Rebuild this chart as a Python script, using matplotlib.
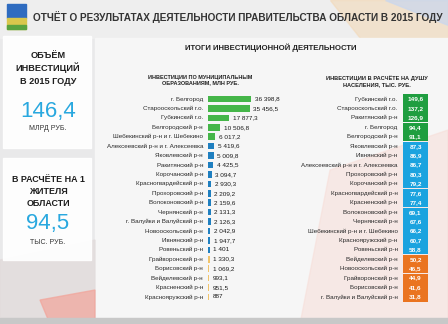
import matplotlib
matplotlib.use("Agg")
import matplotlib.pyplot as plt
from matplotlib.patches import Rectangle, Polygon

# Данные: инвестиции по муниципальным образованиям, млн руб.
mun_names = ["г. Белгород", "Старооскольский г.о.", "Губкинский г.о.", "Белгородский р-н",
             "Шебекинский р-н и г. Шебекино", "Алексеевский р-н и г. Алексеевка",
             "Яковлевский р-н", "Ракитянский р-н", "Корочанский р-н", "Красногвардейский р-н",
             "Прохоровский р-н", "Волоконовский р-н", "Чернянский р-н",
             "г. Валуйки и Валуйский р-н", "Новооскольский р-н", "Ивнянский р-н",
             "Ровеньский р-н", "Грайворонский р-н", "Борисовский р-н", "Вейделевский р-н",
             "Красненский р-н", "Краснояружский р-н"]
mun_values = [36398.8, 35456.5, 17877.3, 10506.8, 6017.2, 5419.6, 5009.8, 4425.5, 3094.7,
              2930.3, 2209.2, 2159.6, 2131.3, 2126.3, 2042.9, 1947.7, 1401, 1330.3,
              1069.2, 993.1, 951.5, 887]
mun_groups = [0] * 5 + [1] * 12 + [2] * 5

# Данные: инвестиции в расчёте на душу населения, тыс. руб.
cap_names = ["Губкинский г.о.", "Старооскольский г.о.", "Ракитянский р-н", "г. Белгород",
             "Белгородский р-н", "Яковлевский р-н", "Ивнянский р-н",
             "Алексеевский р-н и г. Алексеевка", "Прохоровский р-н", "Корочанский р-н",
             "Красногвардейский р-н", "Красненский р-н", "Волоконовский р-н",
             "Чернянский р-н", "Шебекинский р-н и г. Шебекино", "Краснояружский р-н",
             "Ровеньский р-н", "Вейделевский р-н", "Новооскольский р-н",
             "Грайворонский р-н", "Борисовский р-н", "г. Валуйки и Валуйский р-н"]
cap_values = [149.6, 137.2, 126.9, 94.4, 91.1, 87.3, 86.9, 86.7, 80.3, 79.2, 77.6, 77.4,
              69.1, 67.6, 66.2, 60.7, 58.8, 50.2, 46.5, 44.9, 41.6, 31.8]
cap_groups = [0] * 5 + [1] * 12 + [2] * 5

FONT = ["Liberation Sans", "DejaVu Sans"]

def fmt(v):
    s = f"{v:,.1f}".replace(",", " ").replace(".", ",")
    if s.endswith(",0"):
        s = s[:-2]
    return s

W, H = 448, 324
fig = plt.figure(figsize=(W / 100, H / 100), dpi=100, facecolor="#e9e9ea")

# фон и декор в пиксельных координатах
bg = fig.add_axes([0, 0, 1, 1])
bg.set_xlim(0, W)
bg.set_ylim(H, 0)
bg.axis("off")
bg.add_patch(Rectangle((0, 0), W, 38, color="#eeeeee"))
bg.add_patch(Polygon([(330, 0), (448, 0), (448, 38), (360, 38)], color="#f3d9b8", alpha=0.6))
bg.add_patch(Polygon([(385, 0), (448, 0), (448, 25)], color="#c9d7ef", alpha=0.7))
bg.add_patch(Rectangle((95, 38), W - 95, H - 38, color="#f6f6f6"))
bg.add_patch(Polygon([(330, 170), (448, 130), (448, 324), (300, 324)], color="#f6dcd6", alpha=0.5))
bg.add_patch(Polygon([(0, 260), (95, 240), (95, 324), (0, 324)], color="#e2dcdc", alpha=0.8))
bg.add_patch(Polygon([(40, 300), (95, 290), (95, 324), (50, 324)], color="#f2a49a", alpha=0.7))
bg.add_patch(Rectangle((0, 318), W, 6, color="#c8c8c8"))

# герб
bg.add_patch(Rectangle((7, 4), 19, 14, color="#2f6cc0"))
bg.add_patch(Rectangle((7, 18), 19, 11, color="#d9c74c"))
bg.add_patch(Rectangle((7, 25), 19, 4, color="#5aa33f"))

bg.text(33, 17, "ОТЧЁТ О РЕЗУЛЬТАТАХ ДЕЯТЕЛЬНОСТИ ПРАВИТЕЛЬСТВА ОБЛАСТИ В 2015 ГОДУ",
        family=FONT, fontsize=7.2, fontweight="bold", color="#333333", va="center")

# левые белые блоки
bg.add_patch(Rectangle((3, 36), 88, 112, color="white", alpha=0.93))
bg.add_patch(Rectangle((3, 158), 88, 102, color="white", alpha=0.93))
for y, t in [(55, "ОБЪЁМ"), (68, "ИНВЕСТИЦИЙ"), (82, "В 2015 ГОДУ")]:
    bg.text(48, y, t, family=FONT, fontsize=6.6, fontweight="bold", color="#1e1e1e",
            ha="center", va="center")
bg.text(48, 112, "146,4", family=FONT, fontsize=16, color="#29a8df", ha="center", va="center")
bg.text(48, 129, "МЛРД РУБ.", family=FONT, fontsize=5, color="#333333", ha="center", va="center")
for y, t in [(179, "В РАСЧЁТЕ НА 1"), (192, "ЖИТЕЛЯ"), (204, "ОБЛАСТИ")]:
    bg.text(48, y, t, family=FONT, fontsize=6.4, fontweight="bold", color="#1e1e1e",
            ha="center", va="center")
bg.text(48, 223, "94,5", family=FONT, fontsize=16, color="#29a8df", ha="center", va="center")
bg.text(48, 242, "ТЫС. РУБ.", family=FONT, fontsize=5, color="#333333", ha="center", va="center")

# заголовки
bg.text(271, 48, "ИТОГИ ИНВЕСТИЦИОННОЙ ДЕЯТЕЛЬНОСТИ", family=FONT, fontsize=5.6,
        fontweight="bold", color="#222222", ha="center", va="center")
bg.text(200, 80, "ИНВЕСТИЦИИ ПО МУНИЦИПАЛЬНЫМ\nОБРАЗОВАНИЯМ, МЛН РУБ.", family=FONT,
        fontsize=4, fontweight="bold", color="#222222", ha="center", va="center",
        linespacing=1.2)
bg.text(377, 81, "ИНВЕСТИЦИИ В РАСЧЁТЕ НА ДУШУ\nНАСЕЛЕНИЯ, ТЫС. РУБ.", family=FONT,
        fontsize=4.1, fontweight="bold", color="#222222", ha="center", va="center",
        linespacing=1.2)

n = len(mun_names)
top, bottom = 94.3, 301.7

def px_axes(x0, x1):
    return fig.add_axes([x0 / W, 1 - bottom / H, (x1 - x0) / W, (bottom - top) / H])

# левая диаграмма
bar_colors = ["#45b649", "#1f7fc0", "#f1c46b"]
ax = px_axes(208, 300)
ax.barh(range(n), mun_values, height=0.7, color=[bar_colors[g] for g in mun_groups])
ax.set_xlim(0, 36398.8 * 92 / 43)
ax.set_ylim(n - 0.5, -0.5)
ax.axis("off")
for i, (name, v) in enumerate(zip(mun_names, mun_values)):
    ax.text(-4200, i, name, family=FONT, fontsize=4.5, color="#2a2a2a",
            ha="right", va="center")
    ax.text(v + 3000, i, fmt(v), family=FONT, fontsize=4.6, color="#1a1a1a",
            ha="left", va="center")

# правая таблица
cell_colors = ["#1f9e40", "#1ba3df", "#ea7420"]
ax2 = px_axes(403, 428)
ax2.barh(range(n), [1] * n, height=0.96, color=[cell_colors[g] for g in cap_groups])
ax2.set_xlim(0, 1)
ax2.set_ylim(n - 0.5, -0.5)
ax2.axis("off")
for i, (name, v) in enumerate(zip(cap_names, cap_values)):
    ax2.text(-0.22, i, name, family=FONT, fontsize=4.5, color="#2a2a2a",
             ha="right", va="center")
    ax2.text(0.5, i, fmt(v), family=FONT, fontsize=4.6, fontweight="bold", color="white",
             ha="center", va="center")

fig.savefig("out.png", dpi=100, facecolor=fig.get_facecolor())
